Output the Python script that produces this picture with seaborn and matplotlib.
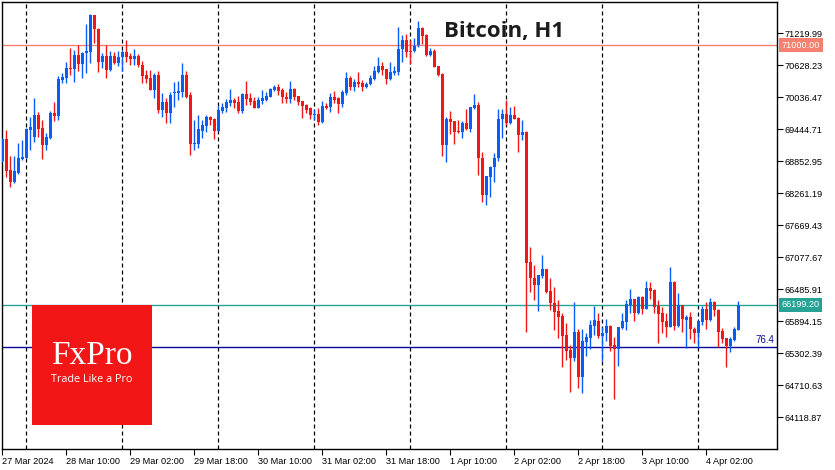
import numpy as np
import pandas as pd
import matplotlib
matplotlib.use("Agg")
import matplotlib.pyplot as plt
from matplotlib.patches import Rectangle
import seaborn as sns

# Bitcoin H1, 27 Mar 18:00 -> 4 Apr 10:00 (hourly bars)
inicio = "2024-03-27 18:00"

opens = [68864, 69260, 68692, 68470, 68637, 68896, 68920, 69432, 69297, 69709,
         69469, 69160, 69290, 69746, 69696, 70357, 70393, 70584, 70560, 70819,
         70652, 70850, 70880, 71558, 71300, 70695, 70800, 70541, 70800, 70676,
         70776, 70880, 70806, 70739, 70806, 70634, 70449, 70388, 70172, 70449,
         69802, 69955, 69752, 70111, 70116, 70140, 70449, 70079, 69168, 69173,
         69408, 69506, 69672, 69635, 69414, 69789, 69844, 69931, 69987, 69955,
         69783, 70098, 70018, 69974, 69848, 69972, 69996, 70048, 70172, 70227,
         70172, 70048, 70005, 70190, 70061, 69968, 69894, 69833, 69709, 69728,
         69586, 69876, 69863, 70037, 70018, 69913, 70122, 70388, 70233, 70325,
         70307, 70233, 70277, 70375, 70510, 70615, 70554, 70375, 70492, 70510,
         70924, 71096, 70898, 70898, 71004, 71312, 71189, 70819, 70898, 70615,
         70468, 69155, 69630, 69598, 69419, 69401, 69556, 69445, 69844, 69894,
         68920, 68230, 68569, 68741, 68909, 69630, 69728, 69567, 69709, 69648,
         69340, 69401, 66986, 66701, 66566, 66738, 66862, 66455, 66227, 66085,
         65993, 65642, 65364, 65222, 65691, 64871, 65518, 65593, 65813, 65900,
         65629, 65673, 65808, 65457, 65377, 65777, 65887, 66196, 66301, 66043,
         66338, 66128, 66505, 66474, 66178, 66043, 65900, 65790, 66621, 65808,
         66196, 65919, 65980, 65752, 65673, 65887, 66122, 65919, 66258, 66104,
         65716, 65580, 65438, 65549, 65734]

highs = [69284, 69432, 68951, 68957, 69192, 69247, 69460, 69667, 70024, 69759,
         69611, 69377, 69783, 69950, 70431, 70492, 70695, 70954, 70911, 70998,
         70880, 71392, 71577, 71565, 71309, 70850, 71004, 70893, 70880, 70893,
         70917, 71096, 70850, 70930, 70837, 70717, 70541, 70541, 70486, 70523,
         70111, 70033, 70144, 70325, 70329, 70676, 70532, 70135, 69611, 69709,
         69617, 69709, 69700, 69648, 69876, 69937, 70005, 70190, 70033, 70061,
         70125, 70338, 70111, 70048, 70042, 70172, 70135, 70203, 70259, 70283,
         70203, 70140, 70338, 70214, 70070, 69975, 69913, 69863, 69815, 69833,
         69974, 69926, 70111, 70159, 70037, 70172, 70510, 70431, 70370, 70510,
         70357, 70325, 70449, 70621, 70787, 70684, 70560, 70684, 70621, 71342,
         71189, 71201, 71096, 71127, 71447, 71331, 71207, 70943, 70924, 70620,
         70480, 69678, 69789, 69605, 69617, 69598, 69815, 69858, 70098, 69955,
         69020, 68590, 68760, 69001, 69815, 69815, 69987, 69851, 69876, 69678,
         69617, 69410, 67274, 66936, 66760, 67121, 66870, 66690, 66535, 66289,
         66054, 65858, 65457, 66244, 65752, 65752, 65673, 65919, 66178, 66054,
         65795, 65932, 65826, 65599, 65790, 66054, 66289, 66487, 66310, 66363,
         66363, 66640, 66628, 66492, 66289, 66165, 66043, 66905, 66640, 66424,
         66205, 66011, 66072, 65795, 65919, 66178, 66258, 66320, 66276, 66116,
         65765, 65588, 65599, 65795, 66276]

lows = [68840, 68569, 68384, 68458, 68624, 68883, 68914, 69062, 69205, 69303,
        68896, 69068, 69271, 69604, 69617, 70296, 70296, 70449, 70325, 70528,
        70393, 70486, 70671, 71041, 70510, 70573, 70393, 70523, 70652, 70621,
        70528, 70695, 70634, 70634, 70588, 70296, 70296, 70165, 70024, 69746,
        69672, 69567, 69567, 69863, 69987, 70048, 70033, 68970, 69062, 69099,
        69278, 69401, 69530, 69260, 69405, 69741, 69765, 69881, 69833, 69752,
        69746, 69900, 69894, 69833, 69830, 69913, 69968, 70042, 70153, 70079,
        69937, 69926, 69926, 69987, 69895, 69659, 69741, 69630, 69617, 69524,
        69556, 69815, 69771, 69937, 69752, 69863, 70079, 70172, 70159, 70233,
        70159, 70203, 70264, 70365, 70492, 70449, 70277, 70357, 70449, 70449,
        70695, 70776, 70652, 70880, 70972, 71017, 70806, 70800, 70595, 70436,
        68951, 68846, 69352, 69168, 69371, 69290, 69438, 69395, 69815, 68600,
        68106, 68045, 68199, 68465, 68864, 69278, 69524, 69543, 69628, 69025,
        69247, 65703, 66442, 66289, 66091, 66690, 66413, 66104, 65734, 65579,
        65055, 65179, 64593, 65161, 64656, 64564, 65259, 65386, 65642, 65579,
        65166, 65536, 65351, 64453, 65074, 65752, 65734, 66054, 65900, 66030,
        66024, 66116, 66301, 66054, 65499, 65673, 65611, 65784, 65734, 65784,
        65703, 65407, 65562, 65499, 65426, 65826, 65746, 65906, 65993, 65426,
        65499, 65044, 65333, 65536, 65727]

closes = [69260, 68680, 68470, 68674, 68920, 68933, 69450, 69493, 69709, 69456,
          69160, 69303, 69746, 69696, 70375, 70412, 70578, 70554, 70819, 70652,
          70861, 70898, 71558, 71294, 70695, 70800, 70541, 70800, 70676, 70776,
          70880, 70776, 70739, 70806, 70634, 70436, 70375, 70172, 70449, 69802,
          69955, 69752, 70079, 70129, 70153, 70449, 70048, 69173, 69201, 69450,
          69524, 69678, 69617, 69414, 69802, 69863, 69955, 69987, 69926, 69783,
          70098, 70011, 69955, 69839, 69987, 70029, 70061, 70186, 70231, 70157,
          70037, 70005, 70190, 70048, 69955, 69876, 69802, 69709, 69728, 69586,
          69876, 69833, 70048, 69987, 69913, 70140, 70388, 70233, 70325, 70283,
          70233, 70283, 70399, 70523, 70615, 70541, 70375, 70510, 70528, 70930,
          71096, 70880, 70880, 70985, 71324, 71176, 70819, 70893, 70602, 70449,
          69155, 69630, 69586, 69401, 69390, 69567, 69445, 69851, 69894, 68909,
          68230, 68581, 68753, 68920, 69635, 69728, 69556, 69709, 69635, 69340,
          69390, 66978, 66690, 66566, 66751, 66862, 66442, 66227, 66072, 65980,
          65629, 65351, 65210, 65691, 64871, 65531, 65605, 65826, 65919, 65629,
          65673, 65808, 65444, 65377, 65784, 65900, 66209, 66301, 66054, 66350,
          66116, 66505, 66455, 66165, 66030, 65887, 65790, 66627, 65808, 66196,
          65932, 65980, 65747, 65673, 65900, 66122, 65919, 66258, 66104, 65703,
          65562, 65438, 65562, 65752, 66199.20]

# eixo de preços (lado direito)
precos_eixo = [71219.99, 70628.23, 70036.47, 69444.71, 68852.95, 68261.19, 67669.43,
               67077.67, 66485.91, 65894.15, 65302.39, 64710.63, 64118.87]
rotulos_tempo = ["27 Mar 2024", "28 Mar 10:00", "29 Mar 02:00", "29 Mar 18:00",
                 "30 Mar 10:00", "31 Mar 02:00", "31 Mar 18:00", "1 Apr 10:00",
                 "2 Apr 02:00", "2 Apr 18:00", "3 Apr 10:00", "4 Apr 02:00"]
nivel_71k = 71000.00
preco_atual = 66199.20
nivel_fibo = 65414
rotulo_fibo = "76.4"

df = pd.DataFrame({"open": opens, "high": highs, "low": lows, "close": closes})
df["time"] = pd.date_range(inicio, periods=len(df), freq="h")
df["pos"] = np.arange(len(df))

AZUL = "#0a5cf6"
VERMELHO = "#f21616"
df["cor"] = np.where(df["close"] >= df["open"], AZUL, VERMELHO)

sns.set_theme(style="white")
plt.rcParams["font.family"] = ["Liberation Sans", "DejaVu Sans"]

fig = plt.figure(figsize=(8.35, 4.7), dpi=100)
ax = fig.add_axes([2 / 835, (470 - 449.3) / 470, 775 / 835, 447.3 / 470])

# separadores de dia (meia-noite)
for p in df.loc[df["time"].dt.hour == 0, "pos"]:
    ax.axvline(p, color="black", lw=0.9, dashes=(3.2, 2.4), zorder=1)

# linhas horizontais
ax.axhline(nivel_71k, color="#f4806f", lw=1.0, zorder=2)
ax.axhline(preco_atual, color="#26a395", lw=1.0, zorder=2)
ax.axhline(nivel_fibo, color="#0a0a9a", lw=1.0, zorder=2)

# candles
ax.vlines(df["pos"], df["low"], df["high"], colors=df["cor"], lw=1.0, zorder=3)
corpo = (df["close"] - df["open"]).abs().clip(lower=12)
ax.bar(df["pos"], corpo, bottom=df[["open", "close"]].min(axis=1),
       width=0.72, color=df["cor"], linewidth=0, zorder=3)

ax.set_xlim(-0.1, 193.7)
ax.set_ylim(63528, 71799)

# eixos
for s in ax.spines.values():
    s.set_color("black")
    s.set_linewidth(1.0)
ax.yaxis.tick_right()
ax.set_yticks(precos_eixo)
ax.set_yticklabels([f"{v:.2f}" for v in precos_eixo])
ax.set_xticks(df["pos"].iloc[::16])
ax.set_xticklabels(rotulos_tempo, ha="left")
ax.tick_params(axis="y", right=True, left=False, length=4, width=0.8,
               direction="out", pad=1.5, labelsize=6.6, colors="black")
ax.tick_params(axis="x", bottom=True, length=4, width=0.8,
               direction="out", pad=1.5, labelsize=6.6, colors="black")
ax.grid(False)

# caixas de preço no eixo
caixa_x = 1 + 4.5 / 775
ax.text(caixa_x, nivel_71k, "71000.00", transform=ax.get_yaxis_transform(),
        ha="left", va="center", fontsize=6.6, color="white", clip_on=False,
        bbox=dict(boxstyle="square,pad=0.3", fc="#f4806f", ec="none"))
ax.text(caixa_x, preco_atual, f"{preco_atual:.2f}", transform=ax.get_yaxis_transform(),
        ha="left", va="center", fontsize=6.6, color="white", clip_on=False,
        bbox=dict(boxstyle="square,pad=0.3", fc="#26a395", ec="none"))
ax.annotate(rotulo_fibo, xy=(0.997, nivel_fibo), xycoords=ax.get_yaxis_transform(),
            xytext=(0, 2), textcoords="offset points", ha="right", va="bottom",
            fontsize=7, color="#0a0a9a")

# título
fig.text(504 / 835, 1 - 31 / 470, "Bitcoin, H1", ha="center", va="center",
         fontsize=16, fontweight="bold", family="Open Sans", color="#1c1c1c")

# logo FxPro
fig.patches.append(Rectangle((32 / 835, (470 - 424.7) / 470), 120 / 835, 119.7 / 470,
                             transform=fig.transFigure, fc="#f21616", ec="none", zorder=5))
fig.text(92 / 835, 1 - 356 / 470, "FxPro", ha="center", va="center", fontsize=24,
         family="Liberation Serif", color="white", zorder=6)
fig.text(92 / 835, 1 - 380 / 470, "Trade Like a Pro", ha="center", va="center",
         fontsize=7.8, family="Open Sans", color="white", zorder=6)

plt.savefig("out.png", dpi=100)
print("out.png salvo")
